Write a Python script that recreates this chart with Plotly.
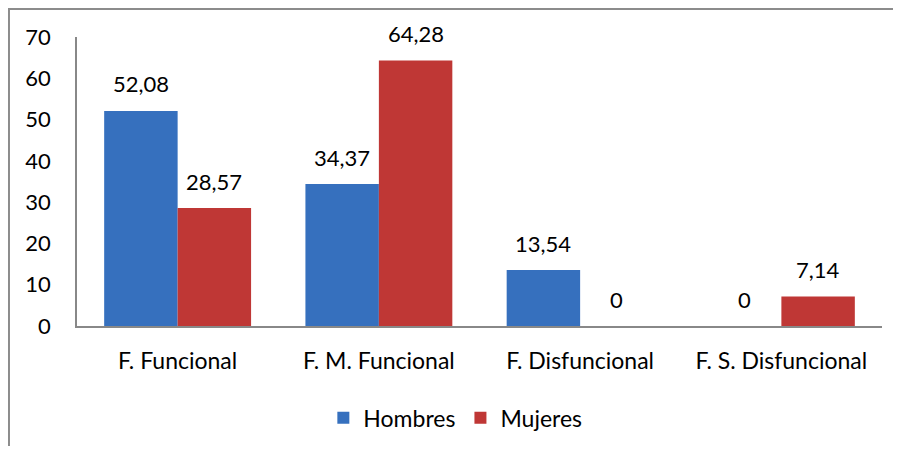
import plotly.graph_objects as go

categorias = ["F. Funcional", "F. M. Funcional", "F. Disfuncional", "F. S. Disfuncional"]
hombres = [52.08, 34.37, 13.54, 0]
mujeres = [28.57, 64.28, 0, 7.14]
ticks_y = [0, 10, 20, 30, 40, 50, 60, 70]

FUENTE = "Lato, 'Open Sans', sans-serif"


def etiqueta(v):
    return ("%g" % v).replace(".", ",")


fig = go.Figure()
fig.add_trace(go.Bar(x=categorias, y=hombres, name="Hombres",
                     marker=dict(color="#3670BE", line=dict(width=0))))
fig.add_trace(go.Bar(x=categorias, y=mujeres, name="Mujeres",
                     marker=dict(color="#BF3735", line=dict(width=0))))

# etiquetas de datos encima de cada barra (como en Excel)
for valores, desplaz in ((hombres, -36.7), (mujeres, 36.7)):
    for cat, v in zip(categorias, valores):
        fig.add_annotation(x=cat, y=v, text=etiqueta(v), showarrow=False,
                           xshift=desplaz, yshift=27, yanchor="middle",
                           font=dict(size=22, color="black", family=FUENTE))

# la pagina tiene 8px de margen, el grafico se dibuja desplazado
fig.update_layout(
    width=885, height=438,
    margin=dict(l=69, r=11, t=29, b=120, autoexpand=False),
    paper_bgcolor="white", plot_bgcolor="white",
    font=dict(family=FUENTE, size=22, color="black"),
    barmode="group", bargap=0.27, bargroupgap=0,
    showlegend=True,
    legend=dict(orientation="h", x=0.47, xanchor="center", y=-0.318, yanchor="middle",
                font=dict(size=23), traceorder="normal"),
    xaxis=dict(showline=True, linecolor="#888888", linewidth=1.5, showgrid=False,
               ticks="", tickfont=dict(size=23), ticklabelstandoff=14, automargin=False),
    yaxis=dict(range=[0, 70], tickvals=ticks_y, showline=True, linecolor="#888888",
               linewidth=1.5, showgrid=False, zeroline=False, ticks="",
               ticklabelstandoff=20, tickfont=dict(size=22), automargin=False),
)

# marco del grafico
fig.add_shape(type="rect", xref="paper", yref="paper",
              x0=-0.0845, x1=1.2, y0=-1.0, y1=1.0969,
              line=dict(color="#8c8c8c", width=2), fillcolor="rgba(0,0,0,0)", layer="below")

fig.write_html("out.html")
